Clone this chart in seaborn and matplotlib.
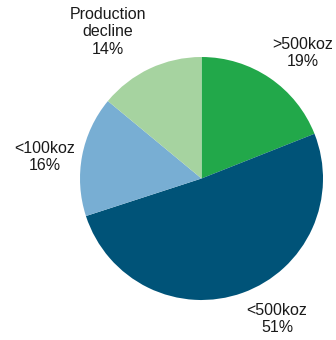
import matplotlib
matplotlib.use("Agg")
import matplotlib.pyplot as plt
import seaborn as sns

categories = [">500koz", "<500koz", "<100koz", "Production\ndecline"]
shares = [19, 51, 16, 14]
colors = ["#22a84a", "#005378", "#78aed3", "#a6d3a0"]

sns.set_theme(style="white")
plt.rcParams['font.family'] = ['Liberation Sans', 'DejaVu Sans']

fig = plt.figure(figsize=(3.36, 3.40), dpi=100)
ax = fig.add_axes([0, 0, 1, 1])

cx, cy, r = 201.5, 340 - 178.5, 121.5
ax.pie(shares, colors=colors, startangle=90, counterclock=False,
       center=(cx, cy), radius=r, frame=True,
       wedgeprops=dict(linewidth=0))
ax.set_xlim(0, 336)
ax.set_ylim(0, 340)
ax.set_aspect('equal')
ax.axis('off')

label_pos = [(303, 340 - 53), (277, 340 - 319), (45, 340 - 157), (108, 340 - 32)]
for cat, val, (x, y) in zip(categories, shares, label_pos):
    ax.text(x, y, f"{cat}\n{val}%", ha='center', va='center',
            fontsize=11.5, color='#1a1a1a', linespacing=1.22)

fig.savefig("out.png", dpi=100)
